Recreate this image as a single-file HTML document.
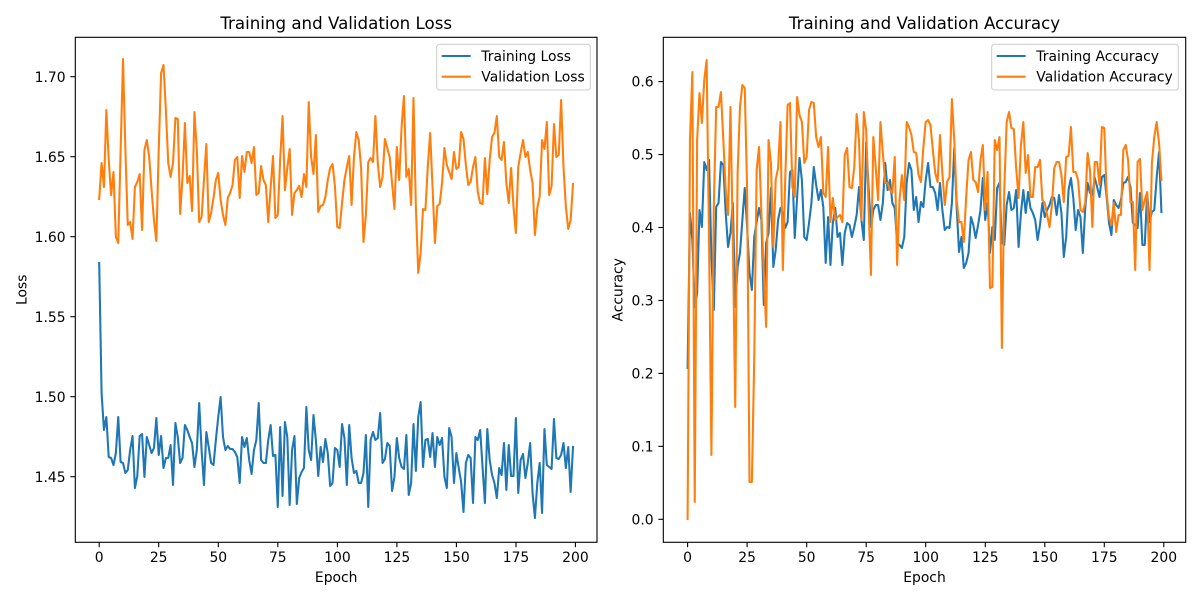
<!DOCTYPE html>
<html><head><meta charset="utf-8"><style>
html,body{margin:0;padding:0;background:#fff;}
svg{display:block;font-family:"DejaVu Sans","Liberation Sans",sans-serif;}
.t{font-size:13.9px;fill:#000;}
.tt{font-size:16.67px;fill:#000;}
.ln{fill:none;stroke-width:2.08;stroke-linejoin:round;stroke-linecap:square;}
</style></head><body>
<svg width="1200" height="600" viewBox="0 0 1200 600" xmlns="http://www.w3.org/2000/svg">
<rect width="1200" height="600" fill="#fff"/>

<!-- LEFT AXES -->
<g transform="translate(99.2 0) scale(2.381 1)">
<polyline class="ln" vector-effect="non-scaling-stroke" stroke="#1f77b4" points="0,263 1,393 2,430 3,417 4,457 5,458 6,465 7,453 8,417 9,462 10,463 11,473 12,470 13,450 14,436 15,488 16,476 17,436 18,434 19,477 20,437 21,445 22,453 23,448 24,418 25,455 26,436 27,468 28,458 29,458 30,445 31,485 32,423 33,437 34,463 35,458 36,425 37,430 38,437 39,443 40,467 41,450 42,403 43,450 44,485 45,432 46,447 47,463 48,465 49,440 50,417 51,397 52,437 53,450 54,446 55,449 56,449 57,452 58,457 59,483 60,437 61,447 62,438 63,460 64,474 65,450 66,440 67,403 68,460 69,463 70,463 71,440 72,425 73,456 74,455 75,507 76,427 77,496 78,422 79,437 80,505 81,450 82,436 83,504 84,478 85,472 86,468 87,407 88,450 89,460 90,415 91,440 92,476 93,447 94,462 95,439 96,453 97,486 98,483 99,448 100,450 101,467 102,424 103,438 104,485 105,425 106,458 107,473 108,471 109,483 110,483 111,473 112,435 113,507 114,440 115,432 116,440 117,438 118,413 119,463 120,459 121,443 122,446 123,491 124,477 125,438 126,458 127,467 128,469 129,435 130,495 131,483 132,424 133,471 134,417 135,402 136,467 137,440 138,439 139,457 140,433 141,467 142,437 143,445 144,438 145,477 146,488 147,428 148,437 149,483 150,453 151,468 152,482 153,512 154,463 155,455 156,458 157,503 158,437 159,440 160,430 161,467 162,503 163,429 164,460 165,475 166,483 167,498 168,468 169,475 170,443 171,490 172,445 173,476 174,476 175,418 176,493 177,460 178,454 179,478 180,463 181,443 182,493 183,518 184,483 185,463 186,513 187,429 188,465 189,467 190,469 191,419 192,458 193,459 194,455 195,443 196,468 197,447 198,492 199,447"/>
<polyline class="ln" vector-effect="non-scaling-stroke" stroke="#ff7f0e" points="0,199 1,163 2,187 3,110 4,160 5,195 6,172 7,237 8,243 9,150 10,59 11,150 12,225 13,222 14,239 15,187 16,182 17,174 18,230 19,150 20,140 21,157 22,190 23,220 24,241 25,150 26,73 27,65 28,110 29,163 30,177 31,163 32,118 33,119 34,214 35,177 36,123 37,183 38,176 39,211 40,112 41,150 42,222 43,217 44,180 45,144 46,222 47,213 48,198 49,180 50,173 51,200 52,215 53,225 54,198 55,193 56,185 57,160 58,157 59,198 60,156 61,172 62,152 63,152 64,163 65,147 66,195 67,193 68,166 69,180 70,185 71,222 72,188 73,156 74,218 75,215 76,160 77,116 78,190 79,168 80,149 81,215 82,193 83,190 84,186 85,197 86,174 87,187 88,102 89,157 90,174 91,135 92,212 93,206 94,205 95,197 96,180 97,168 98,164 99,186 100,227 101,228 102,203 103,180 104,167 105,156 106,205 107,157 108,132 109,140 110,168 111,242 112,215 113,162 114,158 115,162 116,116 117,163 118,187 119,177 120,139 121,148 122,157 123,183 124,209 125,147 126,180 127,127 128,96 129,177 130,169 131,205 132,98 133,207 134,273 135,253 136,209 137,210 138,167 139,133 140,187 141,243 142,206 143,204 144,183 145,148 146,165 147,172 148,179 149,152 150,169 151,167 152,132 153,139 154,165 155,185 156,182 157,167 158,157 159,192 160,203 161,204 162,158 163,194 164,160 165,137 166,133 167,116 168,157 169,160 170,142 171,183 172,203 173,168 174,207 175,233 176,167 177,153 178,140 179,157 180,152 181,170 182,183 183,235 184,208 185,196 186,140 187,149 188,122 189,195 190,186 191,124 192,157 193,155 194,100 195,167 196,207 197,229 198,220 199,184"/>
</g>
<rect x="75.3" y="37.3" width="521.7" height="505" fill="none" stroke="#000" stroke-width="1.1"/>
<g stroke="#000" stroke-width="1.1">
<line x1="99.2" y1="542.3" x2="99.2" y2="547.2"/><line x1="158.7" y1="542.3" x2="158.7" y2="547.2"/><line x1="218.3" y1="542.3" x2="218.3" y2="547.2"/><line x1="277.8" y1="542.3" x2="277.8" y2="547.2"/><line x1="337.4" y1="542.3" x2="337.4" y2="547.2"/><line x1="396.9" y1="542.3" x2="396.9" y2="547.2"/><line x1="456.4" y1="542.3" x2="456.4" y2="547.2"/><line x1="516" y1="542.3" x2="516" y2="547.2"/><line x1="575.4" y1="542.3" x2="575.4" y2="547.2"/>
<line x1="70.4" y1="476.7" x2="75.3" y2="476.7"/><line x1="70.4" y1="396.7" x2="75.3" y2="396.7"/><line x1="70.4" y1="316.7" x2="75.3" y2="316.7"/><line x1="70.4" y1="236.7" x2="75.3" y2="236.7"/><line x1="70.4" y1="156.7" x2="75.3" y2="156.7"/><line x1="70.4" y1="76.7" x2="75.3" y2="76.7"/>
</g>
<g class="t" text-anchor="middle">
<text x="99.2" y="562">0</text><text x="158.7" y="562">25</text><text x="218.3" y="562">50</text><text x="277.8" y="562">75</text><text x="337.4" y="562">100</text><text x="396.9" y="562">125</text><text x="456.4" y="562">150</text><text x="516" y="562">175</text><text x="575.4" y="562">200</text>
</g>
<g class="t" text-anchor="end">
<text x="65.6" y="481.8">1.45</text><text x="65.6" y="401.8">1.50</text><text x="65.6" y="321.8">1.55</text><text x="65.6" y="241.8">1.60</text><text x="65.6" y="161.8">1.65</text><text x="65.6" y="81.8">1.70</text>
</g>
<text class="t" x="336.2" y="582" text-anchor="middle">Epoch</text>
<text class="t" transform="translate(26.3 289.8) rotate(-90)" text-anchor="middle">Loss</text>
<text class="tt" x="336.2" y="29" text-anchor="middle">Training and Validation Loss</text>
<rect x="436.7" y="44.3" width="153.6" height="45.7" rx="2.8" fill="#fff" fill-opacity="0.8" stroke="#cccccc" stroke-width="1"/>
<line x1="441.7" y1="56" x2="470.7" y2="56" stroke="#1f77b4" stroke-width="2.08"/>
<line x1="441.7" y1="76.7" x2="470.7" y2="76.7" stroke="#ff7f0e" stroke-width="2.08"/>
<text class="t" x="481.3" y="61">Training Loss</text>
<text class="t" x="481.3" y="81.7">Validation Loss</text>

<!-- RIGHT AXES -->
<g transform="translate(687.6 0) scale(2.381 1)">
<polyline class="ln" vector-effect="non-scaling-stroke" stroke="#1f77b4" points="0,368 1,213 2,240 3,307 4,293 5,210 6,227 7,162 8,170 9,160 10,257 11,310 12,207 13,203 14,162 15,165 16,213 17,247 18,233 19,203 20,307 21,267 22,253 23,220 24,188 25,227 26,273 27,290 28,237 29,222 30,208 31,220 32,305 33,243 34,233 35,188 36,267 37,250 38,220 39,208 40,213 41,228 42,222 43,172 44,170 45,238 46,197 47,158 48,180 49,237 50,240 51,223 52,203 53,167 54,185 55,200 56,190 57,207 58,263 59,217 60,265 61,223 62,208 63,237 64,233 65,265 66,233 67,223 68,225 69,237 70,227 71,215 72,187 73,220 74,240 75,142 76,187 77,227 78,210 79,205 80,205 81,220 82,203 83,163 84,190 85,180 86,203 87,208 88,243 89,245 90,248 91,237 92,183 93,163 94,170 95,210 96,197 97,222 98,202 99,207 100,180 101,163 102,187 103,187 104,193 105,210 106,183 107,210 108,230 109,227 110,228 111,203 112,148 113,207 114,252 115,237 116,268 117,263 118,253 119,217 120,225 121,238 122,225 123,210 124,178 125,220 126,203 127,253 128,227 129,240 130,188 131,183 132,243 133,245 134,205 135,192 136,210 137,208 138,190 139,247 140,213 141,190 142,213 143,192 144,208 145,213 146,220 147,240 148,225 149,203 150,217 151,210 152,205 153,197 154,198 155,215 156,195 157,213 158,257 159,237 160,190 161,178 162,198 163,230 164,210 165,217 166,253 167,208 168,183 169,193 170,195 171,178 172,187 173,197 174,177 175,175 176,197 177,223 178,235 179,200 180,205 181,208 182,200 183,183 184,182 185,177 186,187 187,223 188,225 189,228 190,193 191,245 192,245 193,193 194,222 195,212 196,210 197,178 198,152 199,212"/>
<polyline class="ln" vector-effect="non-scaling-stroke" stroke="#ff7f0e" points="0,519 1,140 2,72 3,502 4,140 5,93 6,123 7,80 8,60 9,240 10,455 11,207 12,107 13,107 14,92 15,140 16,190 17,215 18,107 19,240 20,407 21,173 22,107 23,85 24,88 25,190 26,482 27,482 28,357 29,170 30,147 31,213 32,273 33,327 34,140 35,163 36,247 37,180 38,168 39,122 40,270 41,180 42,105 43,103 44,187 45,197 46,97 47,115 48,122 49,163 50,157 51,110 52,102 53,103 54,137 55,147 56,137 57,193 58,197 59,147 60,222 61,198 62,220 63,217 64,215 65,222 66,155 67,148 68,187 69,188 70,167 71,114 72,140 73,220 74,112 75,130 76,207 77,275 78,137 79,167 80,200 81,122 82,153 83,183 84,183 85,190 86,193 87,157 88,265 89,200 90,175 91,200 92,122 93,127 94,135 95,152 96,153 97,175 98,182 99,148 100,122 101,120 102,125 103,150 104,173 105,182 106,135 107,173 108,205 109,182 110,177 111,99 112,140 113,200 114,222 115,222 116,242 117,197 118,160 119,152 120,180 121,182 122,192 123,160 124,145 125,210 126,172 127,288 128,287 129,140 130,150 131,137 132,348 133,190 134,122 135,112 136,128 137,129 138,168 139,198 140,145 141,122 142,173 143,155 144,197 145,197 146,167 147,167 148,160 149,200 150,203 151,215 152,227 153,205 154,168 155,162 156,162 157,175 158,202 159,157 160,156 161,127 162,172 163,172 164,180 165,210 166,212 167,203 168,153 169,170 170,227 171,162 172,162 173,185 174,127 175,128 176,193 177,217 178,225 179,203 180,232 181,215 182,215 183,150 184,145 185,160 186,202 187,202 188,270 189,162 190,159 191,210 192,200 193,192 194,270 195,163 196,137 197,122 198,143 199,180"/>
</g>
<rect x="663.3" y="37.3" width="522.4" height="505" fill="none" stroke="#000" stroke-width="1.1"/>
<g stroke="#000" stroke-width="1.1">
<line x1="687.6" y1="542.3" x2="687.6" y2="547.2"/><line x1="747.1" y1="542.3" x2="747.1" y2="547.2"/><line x1="806.7" y1="542.3" x2="806.7" y2="547.2"/><line x1="866.2" y1="542.3" x2="866.2" y2="547.2"/><line x1="925.7" y1="542.3" x2="925.7" y2="547.2"/><line x1="985.3" y1="542.3" x2="985.3" y2="547.2"/><line x1="1044.8" y1="542.3" x2="1044.8" y2="547.2"/><line x1="1104.3" y1="542.3" x2="1104.3" y2="547.2"/><line x1="1163.8" y1="542.3" x2="1163.8" y2="547.2"/>
<line x1="658.4" y1="519.3" x2="663.3" y2="519.3"/><line x1="658.4" y1="446.35" x2="663.3" y2="446.35"/><line x1="658.4" y1="373.4" x2="663.3" y2="373.4"/><line x1="658.4" y1="300.45" x2="663.3" y2="300.45"/><line x1="658.4" y1="227.5" x2="663.3" y2="227.5"/><line x1="658.4" y1="154.55" x2="663.3" y2="154.55"/><line x1="658.4" y1="81.6" x2="663.3" y2="81.6"/>
</g>
<g class="t" text-anchor="middle">
<text x="687.6" y="562">0</text><text x="747.1" y="562">25</text><text x="806.7" y="562">50</text><text x="866.2" y="562">75</text><text x="925.7" y="562">100</text><text x="985.3" y="562">125</text><text x="1044.8" y="562">150</text><text x="1104.3" y="562">175</text><text x="1163.8" y="562">200</text>
</g>
<g class="t" text-anchor="end">
<text x="653.6" y="524.4">0.0</text><text x="653.6" y="451.45">0.1</text><text x="653.6" y="378.5">0.2</text><text x="653.6" y="305.55">0.3</text><text x="653.6" y="232.6">0.4</text><text x="653.6" y="159.65">0.5</text><text x="653.6" y="86.7">0.6</text>
</g>
<text class="t" x="924.5" y="582" text-anchor="middle">Epoch</text>
<text class="t" transform="translate(622.7 289.8) rotate(-90)" text-anchor="middle">Accuracy</text>
<text class="tt" x="924.5" y="29" text-anchor="middle">Training and Validation Accuracy</text>
<rect x="991.7" y="44.3" width="186.6" height="45.7" rx="2.8" fill="#fff" fill-opacity="0.8" stroke="#cccccc" stroke-width="1"/>
<line x1="996.7" y1="56" x2="1025.7" y2="56" stroke="#1f77b4" stroke-width="2.08"/>
<line x1="996.7" y1="76.7" x2="1025.7" y2="76.7" stroke="#ff7f0e" stroke-width="2.08"/>
<text class="t" x="1036.3" y="61">Training Accuracy</text>
<text class="t" x="1036.3" y="81.7">Validation Accuracy</text>
</svg>
</body></html>
